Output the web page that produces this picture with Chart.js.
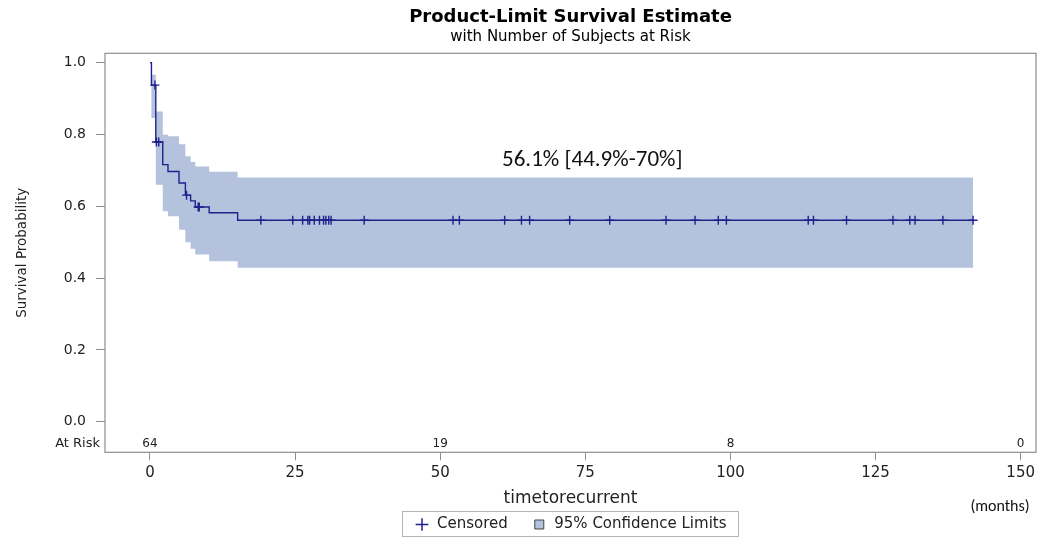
<!DOCTYPE html>
<html><head><meta charset="utf-8">
<script src="https://cdn.jsdelivr.net/npm/chart.js@4.4.1/dist/chart.umd.min.js"></script>
<style>html,body{margin:0;padding:0;background:#fff;}#wrap{width:1047px;height:539px;}</style>
</head><body><div id="wrap"><canvas id="c" width="1047" height="539"></canvas></div>
<script>
// ---- data ----
const eventTimes = [0, 0.25, 1.0, 2.2, 3.1, 5.0, 6.1, 7.0, 7.8, 10.2, 15.1, 141.8];
const survival   = [1, 0.9375, 0.779, 0.716, 0.697, 0.665, 0.631, 0.615, 0.598, 0.582, 0.561, 0.561];
const upperCL    = [1, 0.966, 0.864, 0.799, 0.795, 0.773, 0.739, 0.723, 0.711, 0.696, 0.680, 0.680];
const lowerCL    = [1, 0.846, 0.660, 0.586, 0.572, 0.535, 0.500, 0.482, 0.466, 0.447, 0.429, 0.429];
const censorTimes = [0.85, 1.1, 1.5, 6.3, 8.3, 8.5, 19.1, 24.6, 26.3, 27.2, 27.5, 28.3, 29.2, 29.9, 30.3, 30.8, 31.2, 36.9,
  52.2, 53.3, 61.1, 64.0, 65.4, 72.3, 79.2, 88.9, 93.9, 97.9, 99.3, 113.4, 114.3, 120.0, 128.0, 130.9, 131.8, 136.6, 141.8];
const censorSurv = [0.9375, 0.779, 0.779, 0.631, 0.598, 0.598, 0.561, 0.561, 0.561, 0.561, 0.561, 0.561, 0.561, 0.561, 0.561, 0.561, 0.561, 0.561,
  0.561, 0.561, 0.561, 0.561, 0.561, 0.561, 0.561, 0.561, 0.561, 0.561, 0.561, 0.561, 0.561, 0.561, 0.561, 0.561, 0.561, 0.561, 0.561];
const atRiskTimes = [0, 50, 100, 150];
const atRiskCounts = [64, 19, 8, 0];
const xTickValues = [0, 25, 50, 75, 100, 125, 150];
const yTickValues = [0, 0.2, 0.4, 0.6, 0.8, 1.0];
const annotationText = '56.1% [44.9%-70%]';
const annotationAt = [76.2, 0.728];

// ---- styles ----
const SANS = "'DejaVu Sans', 'Liberation Sans', Arial, sans-serif";
const CAL = "Carlito, Lato, 'Open Sans', sans-serif";
const NAVY = '#20208c';
const BAND = '#b4c2de';
const FRAME = '#8e8e8e';
const TXT = '#222';

const pts = (xs, ys) => xs.map((x, i) => ({x: x, y: ys[i]}));

const framePlugin = {
  id: 'frame',
  beforeDatasetsDraw(chart) {
    const {ctx, chartArea: a} = chart;
    ctx.save();
    ctx.strokeStyle = FRAME; ctx.lineWidth = 1.2;
    ctx.strokeRect(a.left, a.top, a.right - a.left, a.bottom - a.top);
    ctx.restore();
  },
  afterDraw(chart) {
    const {ctx, chartArea: a, scales} = chart;
    const xs = scales.x, ys = scales.y;
    ctx.save();
    ctx.fillStyle = TXT;
    ctx.textBaseline = 'middle';
    ctx.textAlign = 'right';
    ctx.font = '13px ' + SANS;
    const rowY = a.bottom - 8.5;
    ctx.fillText('At Risk', a.left - 5, rowY);
    ctx.textAlign = 'center';
    ctx.font = '12px ' + SANS;
    atRiskTimes.forEach((t, i) => ctx.fillText(String(atRiskCounts[i]), xs.getPixelForValue(t), rowY));
    ctx.font = '23px ' + CAL;
    ctx.fillStyle = '#111';
    ctx.fillText(annotationText, xs.getPixelForValue(annotationAt[0]), ys.getPixelForValue(annotationAt[1]));
    ctx.font = '16px ' + CAL;
    ctx.fillText('(months)', 1000, 507);
    const lg = chart.legend;
    if (lg && lg.legendHitBoxes && lg.legendHitBoxes.length) {
      const hb = lg.legendHitBoxes;
      const l = Math.min(...hb.map(h => h.left)) - 12;
      const r = Math.max(...hb.map(h => h.left + h.width)) + 12;
      ctx.strokeStyle = '#b5b5b5'; ctx.lineWidth = 1;
      ctx.strokeRect(Math.round(l) + 0.5, 511.5, Math.round(r - l), 25);
    }
    ctx.restore();
  }
};

new Chart(document.getElementById('c'), {
  type: 'line',
  data: {
    datasets: [
      {label: 'Lower', order: 5, data: pts(eventTimes, lowerCL), stepped: true, borderWidth: 0, pointRadius: 0, fill: false, backgroundColor: BAND},
      {label: '95% Confidence Limits', order: 4, data: pts(eventTimes, upperCL), stepped: true, borderWidth: 0, pointRadius: 0, fill: '-1', backgroundColor: BAND},
      {label: 'Survival', order: 1, data: pts(eventTimes, survival), stepped: true, borderColor: NAVY, borderWidth: 1.4, pointRadius: 0, fill: false},
      {label: 'Censored', order: 0, data: pts(censorTimes, censorSurv), showLine: false, pointStyle: 'cross', pointRadius: 4.5,
        pointBorderColor: NAVY, pointBorderWidth: 1.4, borderColor: NAVY, pointHoverRadius: 4.5}
    ]
  },
  options: {
    responsive: false, animation: false, devicePixelRatio: 1,
    events: [],
    layout: {padding: {left: 0, right: 11, top: 0, bottom: -3}},
    scales: {
      x: {
        type: 'linear', min: -7.75, max: 152.64,
        afterBuildTicks: s => { s.ticks = xTickValues.map(v => ({value: v})); },
        afterFit: s => { s.height = 40.7; },
        ticks: {autoSkip: false, maxRotation: 0, padding: 4, color: TXT, font: {family: SANS, size: 15}, callback: v => String(v)},
        grid: {drawOnChartArea: false, drawTicks: true, tickLength: 8, color: FRAME},
        border: {display: false},
        title: {display: true, text: 'timetorecurrent', color: TXT, font: {family: SANS, size: 17}, padding: {top: 0, bottom: -16.2}}
      },
      y: {
        type: 'linear', min: -0.085, max: 1.026,
        afterBuildTicks: s => { s.ticks = yTickValues.map(v => ({value: v})); },
        afterFit: s => { s.width = 105; },
        ticks: {padding: 10, color: TXT, font: {family: SANS, size: 14}, callback: v => v.toFixed(1)},
        grid: {drawOnChartArea: false, drawTicks: true, tickLength: 9, color: FRAME},
        border: {display: false},
        title: {display: true, text: 'Survival Probability', color: TXT, font: {family: SANS, size: 13.5}, padding: {top: 14, bottom: 0}}
      }
    },
    plugins: {
      title: {display: true, fullSize: false, text: 'Product-Limit Survival Estimate', color: '#000',
        font: {family: SANS, size: 18, weight: 'bold'}, padding: {top: 7, bottom: 0}},
      subtitle: {display: true, fullSize: false, text: 'with Number of Subjects at Risk', color: '#000',
        font: {family: SANS, size: 15}, padding: {top: 0, bottom: 6.7}},
      legend: {
        display: true, position: 'bottom', align: 'center', fullSize: false,
        labels: {
          usePointStyle: true, boxHeight: 9, padding: 24, color: TXT, font: {family: SANS, size: 15},
          generateLabels: () => [
            {text: 'Censored', pointStyle: 'cross', fillStyle: NAVY, strokeStyle: NAVY, lineWidth: 1.5, hidden: false, datasetIndex: 3, fontColor: TXT},
            {text: '95% Confidence Limits', pointStyle: 'rect', fillStyle: BAND, strokeStyle: '#444', lineWidth: 1, hidden: false, datasetIndex: 1, fontColor: TXT}
          ]
        }
      },
      tooltip: {enabled: false}
    }
  },
  plugins: [framePlugin]
});
</script>
</body></html>
